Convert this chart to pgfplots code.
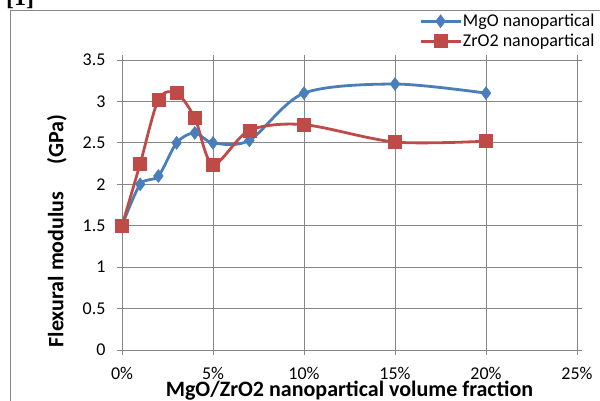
\documentclass[border=0pt]{standalone}
\usepackage{pgfplots}
\pgfplotsset{compat=1.18}
\usepackage{fontspec}
\setmainfont{Carlito}
\newfontfamily\seriffont{Liberation Serif}
\definecolor{mgo}{HTML}{4A7EBB}
\definecolor{zro}{HTML}{BE4B48}
\definecolor{gridc}{HTML}{878787}
\begin{document}
\begin{tikzpicture}
\useasboundingbox (0pt,0pt) rectangle (600pt,400pt);
\clip (0pt,0pt) rectangle (600pt,400pt);
\draw[gridc, line width=0.9pt] (10.5pt,-20pt) rectangle (640pt,389.5pt);
\node[anchor=base west, font=\fontsize{24}{26}\selectfont\seriffont\bfseries, inner sep=0pt] at (6pt,394pt) {[1]};
\begin{axis}[
  at={(122pt,50pt)}, anchor=south west,
  scale only axis, width=455pt, height=290pt,
  xmin=0, xmax=25, ymin=0, ymax=3.5,
  xtick={0,5,10,15,20,25},
  xticklabels={0\%,5\%,10\%,15\%,20\%,25\%},
  ytick={0,0.5,1,1.5,2,2.5,3,3.5},
  yticklabels={0,0.5,1,1.5,2,2.5,3,3.5},
  tick align=outside, major tick length=5pt,
  tick style={gridc, line width=0.9pt},
  axis line style={gridc, line width=0.9pt},
  grid=major, major grid style={gridc, line width=0.9pt},
  ticklabel style={font=\fontsize{18}{20}\selectfont},
  /pgf/number format/assume math mode=true,
  xticklabel style={yshift=-9pt},
  yticklabel style={xshift=-8pt},
  xlabel={MgO/ZrO2 nanopartical volume fraction},
  xlabel style={font=\fontsize{22}{24}\selectfont\bfseries, at={(axis description cs:0.5,-0.162)}, anchor=base},
  ylabel={Flexural modulus\quad\ (GPa)},
  ylabel style={font=\fontsize{22}{24}\selectfont\bfseries, at={(axis description cs:-0.143,0.41)}, anchor=center},
  legend style={at={(rel axis cs:0.6527,1.162)}, anchor=north west, draw=none, fill=none,
    font=\fontsize{18}{20}\selectfont, row sep=4pt, inner sep=0pt, nodes={inner sep=1pt}},
  legend cell align=left,
  legend image code/.code={\draw[#1, mark repeat=2, mark phase=2] plot coordinates {(0pt,0pt) (20pt,0pt) (40pt,0pt)};},
]
\addplot[mgo, line width=2.8pt, smooth, tension=0.5, mark=diamond*, mark size=6.5pt, mark options={solid, fill=mgo, line width=0.5pt}]
  coordinates {(0,1.5) (1,2.0) (2,2.1) (3,2.5) (4,2.62) (5,2.5) (7,2.53) (10,3.1) (15,3.21) (20,3.1)};
\addlegendentry{MgO nanopartical}
\addplot[zro, line width=2.8pt, smooth, tension=0.5, mark=square*, mark size=6.5pt, mark options={solid, fill=zro, line width=0.5pt}]
  coordinates {(0,1.5) (1,2.25) (2,3.02) (3,3.1) (4,2.8) (5,2.24) (7,2.65) (10,2.72) (15,2.51) (20,2.52)};
\addlegendentry{ZrO2 nanopartical}
\end{axis}
\end{tikzpicture}
\end{document}
